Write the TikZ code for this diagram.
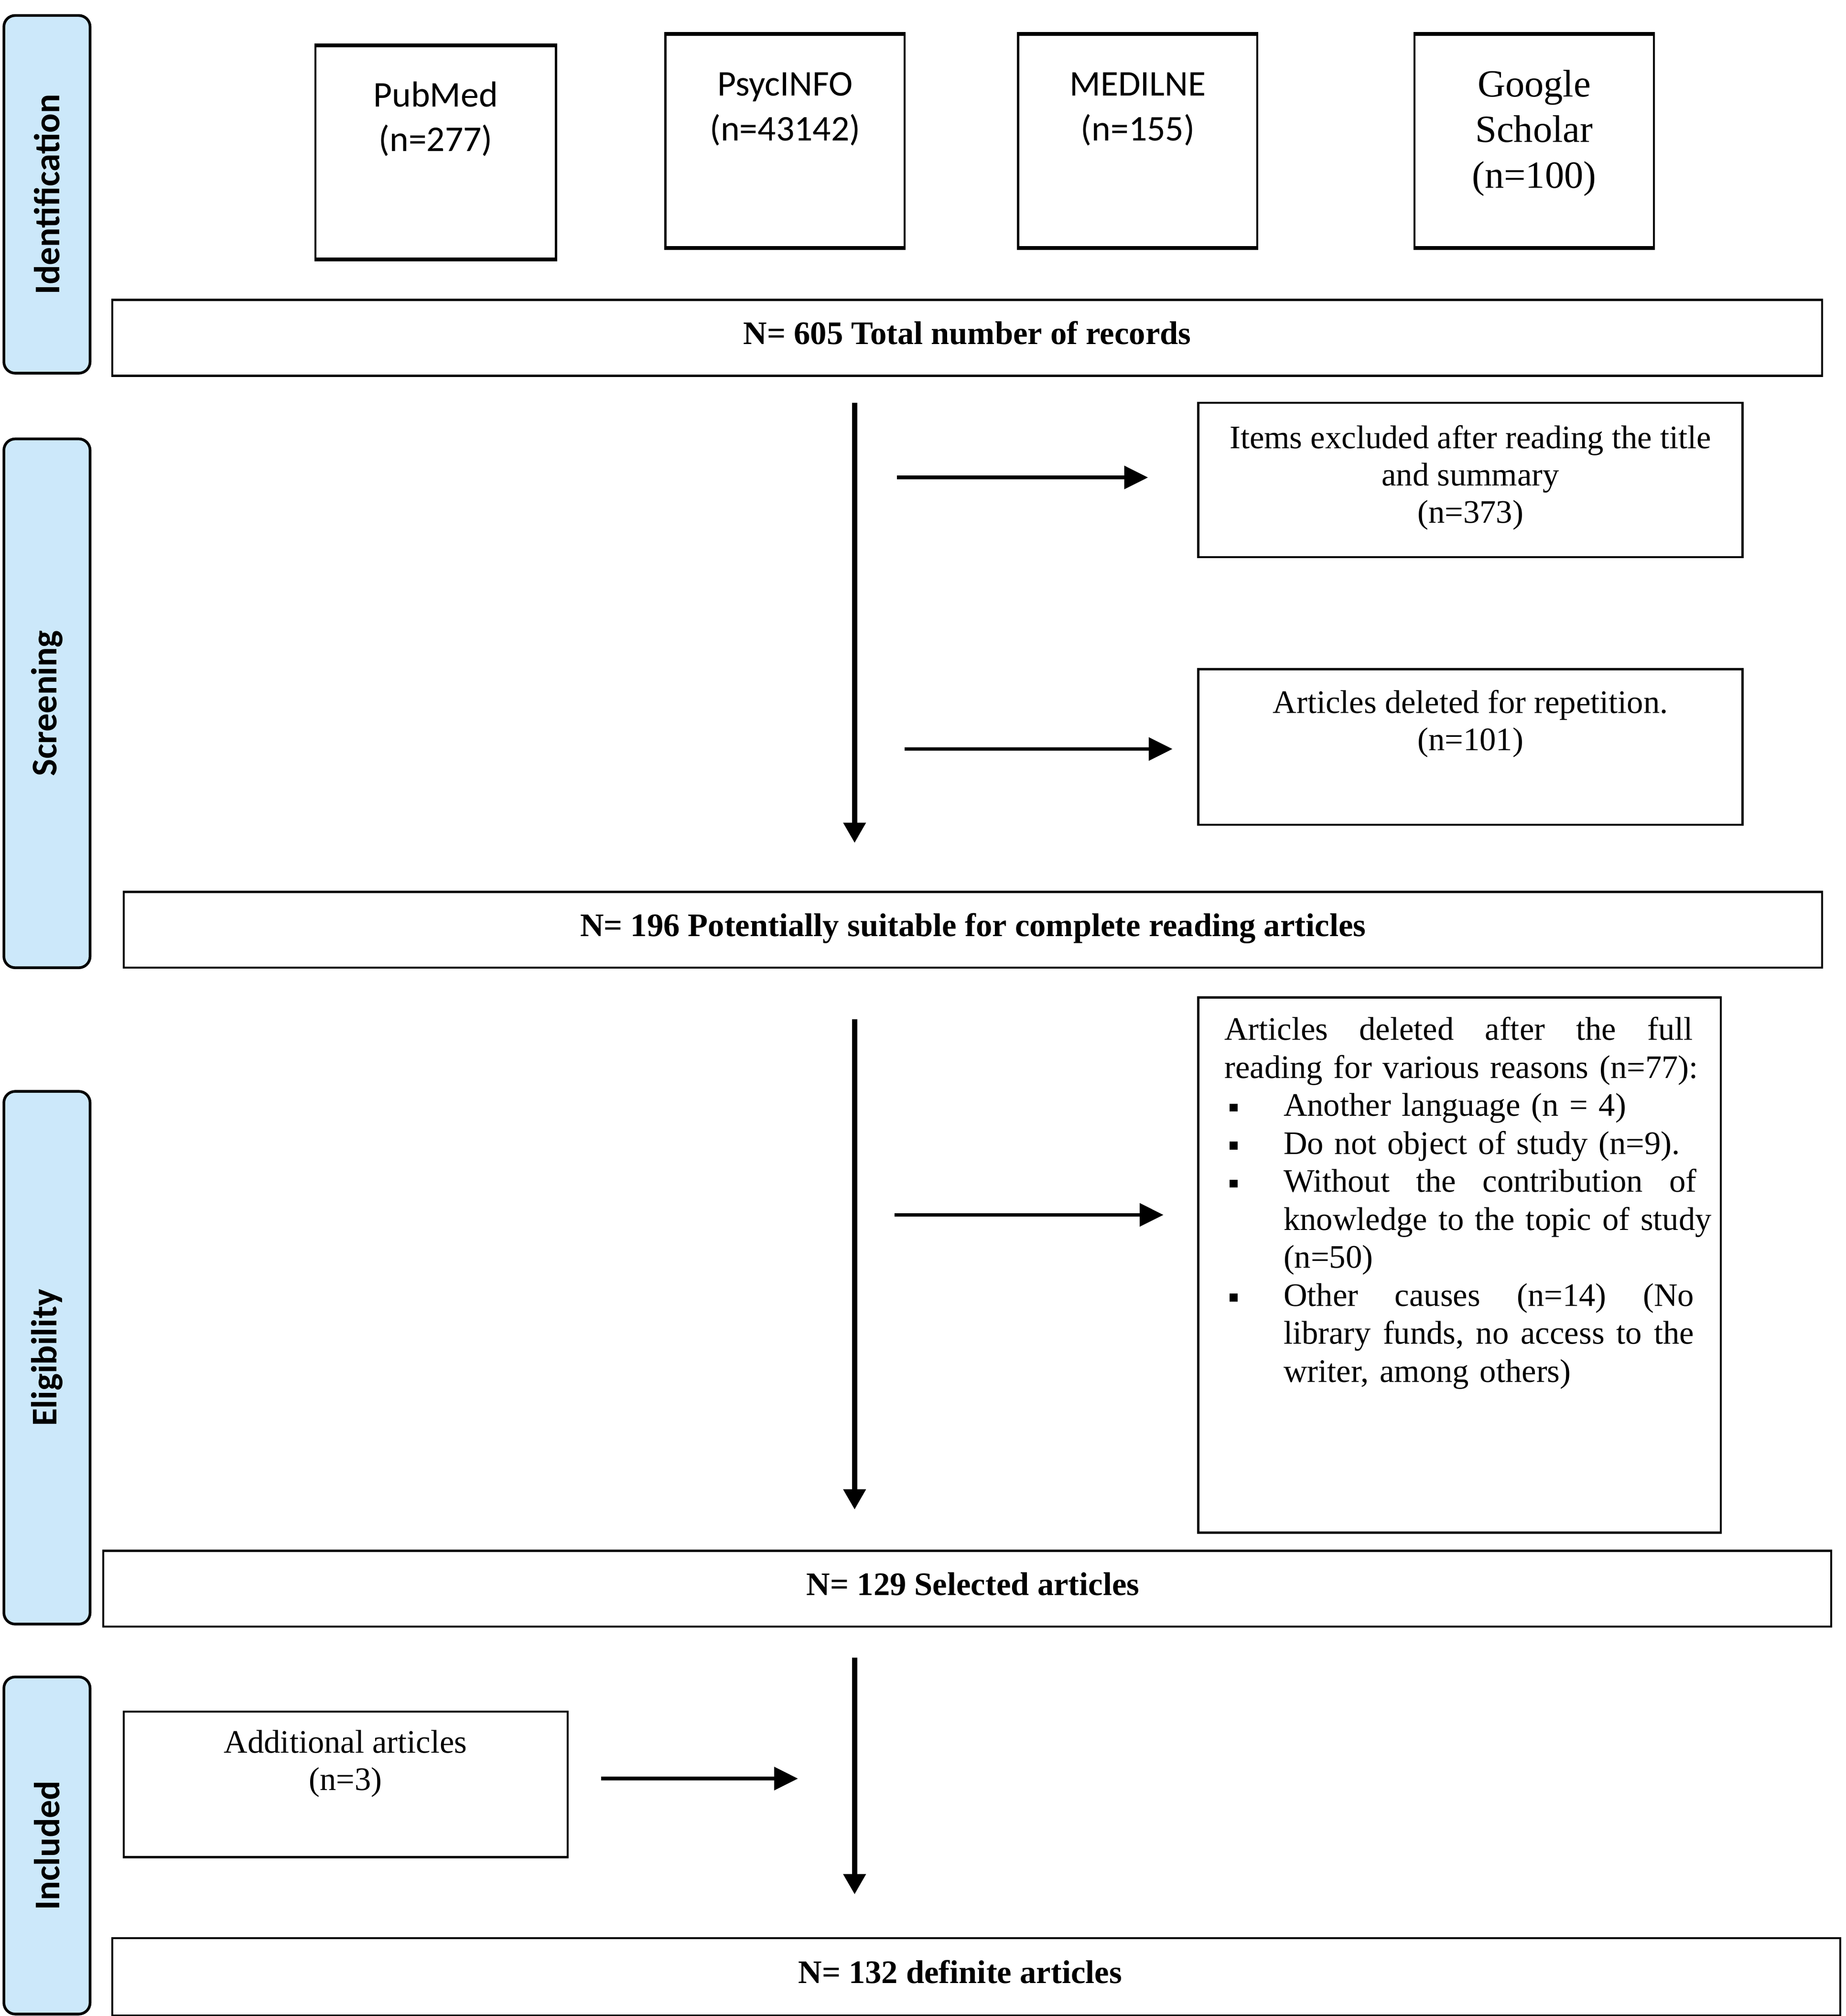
\documentclass[tikz,border=0pt]{standalone}
\usepackage{fontspec}
\setmainfont{Liberation Serif}
\newfontfamily\calib{Carlito}
\usetikzlibrary{arrows.meta}
\definecolor{sidefill}{RGB}{204,232,250}
\newcommand{\bul}{\makebox[0.92cm][l]{\hspace*{0.08cm}\rule[0.14em]{0.24em}{0.24em}}}
\newcommand{\jline}[2]{\hbox to #1{#2}}
\begin{document}
\begin{tikzpicture}[x=0.02cm,y=-0.02cm,
  box/.style={draw, line width=0.9pt, rectangle, inner sep=0pt},
  side/.style={draw, line width=1.2pt, fill=sidefill, rounded corners=5pt, inner sep=0pt,
    rotate=90, font=\calib\bfseries\fontsize{16}{19}\selectfont},
  srctext/.style={anchor=north, align=center, inner sep=0pt, font=\calib\fontsize{16}{19.8}\selectfont},
  sertext/.style={anchor=north, align=center, inner sep=0pt, font=\fontsize{14.5}{16.5}\selectfont},
  boldbox/.style={box, font=\bfseries\fontsize{14.5}{16.8}\selectfont, minimum height=1.18cm,
    text height=9.9pt, text depth=4pt},
  varrow/.style={line width=2.4pt, -{Triangle[length=9pt,width=9.5pt]}},
  harrow/.style={line width=1.6pt, -{Triangle[length=10.5pt,width=10pt]}}
]
\useasboundingbox (0,0) rectangle (1434,1566.5);

% side labels
\node[side, minimum width=5.56cm, minimum height=1.34cm] (ident) at (36.5,151) {Identification};
\node[side, minimum width=8.22cm, minimum height=1.34cm] (screen) at (36.5,546.5) {Screening};
\node[side, minimum width=8.28cm, minimum height=1.34cm] (elig) at (36.5,1055) {Eligibility};
\node[side, minimum width=5.24cm, minimum height=1.34cm] (incl) at (36.5,1434) {Included};

% source boxes
\node[box, minimum width=3.74cm, minimum height=3.3cm] (pubmed) at (338.5,118.5) {};
\node[box, minimum width=3.72cm, minimum height=3.3cm] (psyc) at (610,109.5) {};
\node[box, minimum width=3.72cm, minimum height=3.3cm] (medline) at (884,109.5) {};
\node[box, minimum width=3.72cm, minimum height=3.3cm] (google) at (1192,109.5) {};
\foreach \n in {pubmed,psyc,medline,google}{
  \draw[line width=1.6pt] (\n.north west) -- (\n.north east);
  \draw[line width=1.6pt] (\n.south west) -- (\n.south east);
}
\node[srctext] (pubmedt) at (338.5,63) {PubMed\\(n=277)};
\node[srctext] (psyct) at (610,56) {PsycINFO\\(n=43142)};
\node[srctext] (medlinet) at (884,56) {MEDILNE\\(n=155)};
\node[anchor=north, align=center, inner sep=0pt, font=\fontsize{17}{20.2}\selectfont] (googlet) at (1192,54) {Google\\Scholar\\(n=100)};

% total
\node[boldbox, minimum width=26.58cm] (total) at (751.5,262.5) {N= 605 Total number of records};

% screening
\node[box, minimum width=8.46cm, minimum height=2.4cm] (excl1) at (1142.5,373) {};
\node[sertext] (excl1t) at (1142.5,330) {Items excluded after reading the title\\and summary\\(n=373)};
\node[box, minimum width=8.46cm, minimum height=2.42cm] (excl2) at (1142.5,580.5) {};
\node[sertext] (excl2t) at (1142.5,536) {Articles deleted for repetition.\\(n=101)};
\node[boldbox, minimum width=26.4cm] (suit) at (756,722.5) {N= 196 Potentially suitable for complete reading articles};

% eligibility
\node[box, minimum width=8.12cm, minimum height=8.32cm] (excl3) at (1134,983) {};
\node[anchor=north west, inner sep=0pt, text width=7.8cm, align=left,
  font=\fontsize{14.5}{16.8}\selectfont] (excl3t) at (951,790) {%
\jline{7.28cm}{Articles\hfill deleted\hfill after\hfill the\hfill full}\\
reading for various reasons (n=77):\\
\bul Another language (n = 4)\\
\bul Do not object of study (n=9).\\
\bul\jline{6.42cm}{Without\hfill the\hfill contribution\hfill of}\\
\hspace*{0.92cm}knowledge to the topic of study\\
\hspace*{0.92cm}(n=50)\\
\bul\jline{6.38cm}{Other\hfill causes\hfill (n=14)\hfill (No}\\
\hspace*{0.92cm}\jline{6.38cm}{library\hfill funds,\hfill no\hfill access\hfill to\hfill the}\\
\hspace*{0.92cm}writer, among others)};
\node[boldbox, minimum width=26.86cm] (sel) at (751.5,1234.5) {\hspace*{0.18cm}N= 129 Selected articles};

% included
\node[box, minimum width=6.9cm, minimum height=2.26cm] (add) at (268.5,1386.5) {};
\node[sertext] (addt) at (268.5,1344) {Additional articles\\(n=3)};
\node[boldbox, minimum width=26.86cm, minimum height=1.2cm] (def) at (758.5,1536) {\hspace*{-0.5cm}N= 132 definite articles};

% arrow end points
\coordinate (v1a) at (664,313);  \coordinate (v1b) at (664,655);
\coordinate (h1a) at (697,371);  \coordinate (h1b) at (892,371);
\coordinate (h2a) at (703,582);  \coordinate (h2b) at (911,582);
\coordinate (v2a) at (664,792);  \coordinate (v2b) at (664,1173);
\coordinate (h3a) at (695,944);  \coordinate (h3b) at (904,944);
\coordinate (v3a) at (664,1288); \coordinate (v3b) at (664,1472);
\coordinate (h4a) at (467,1382); \coordinate (h4b) at (620,1382);

\draw[varrow] (v1a) -- (v1b);
\draw[harrow] (h1a) -- (h1b);
\draw[harrow] (h2a) -- (h2b);
\draw[varrow] (v2a) -- (v2b);
\draw[harrow] (h3a) -- (h3b);
\draw[varrow] (v3a) -- (v3b);
\draw[harrow] (h4a) -- (h4b);
\end{tikzpicture}
\end{document}
